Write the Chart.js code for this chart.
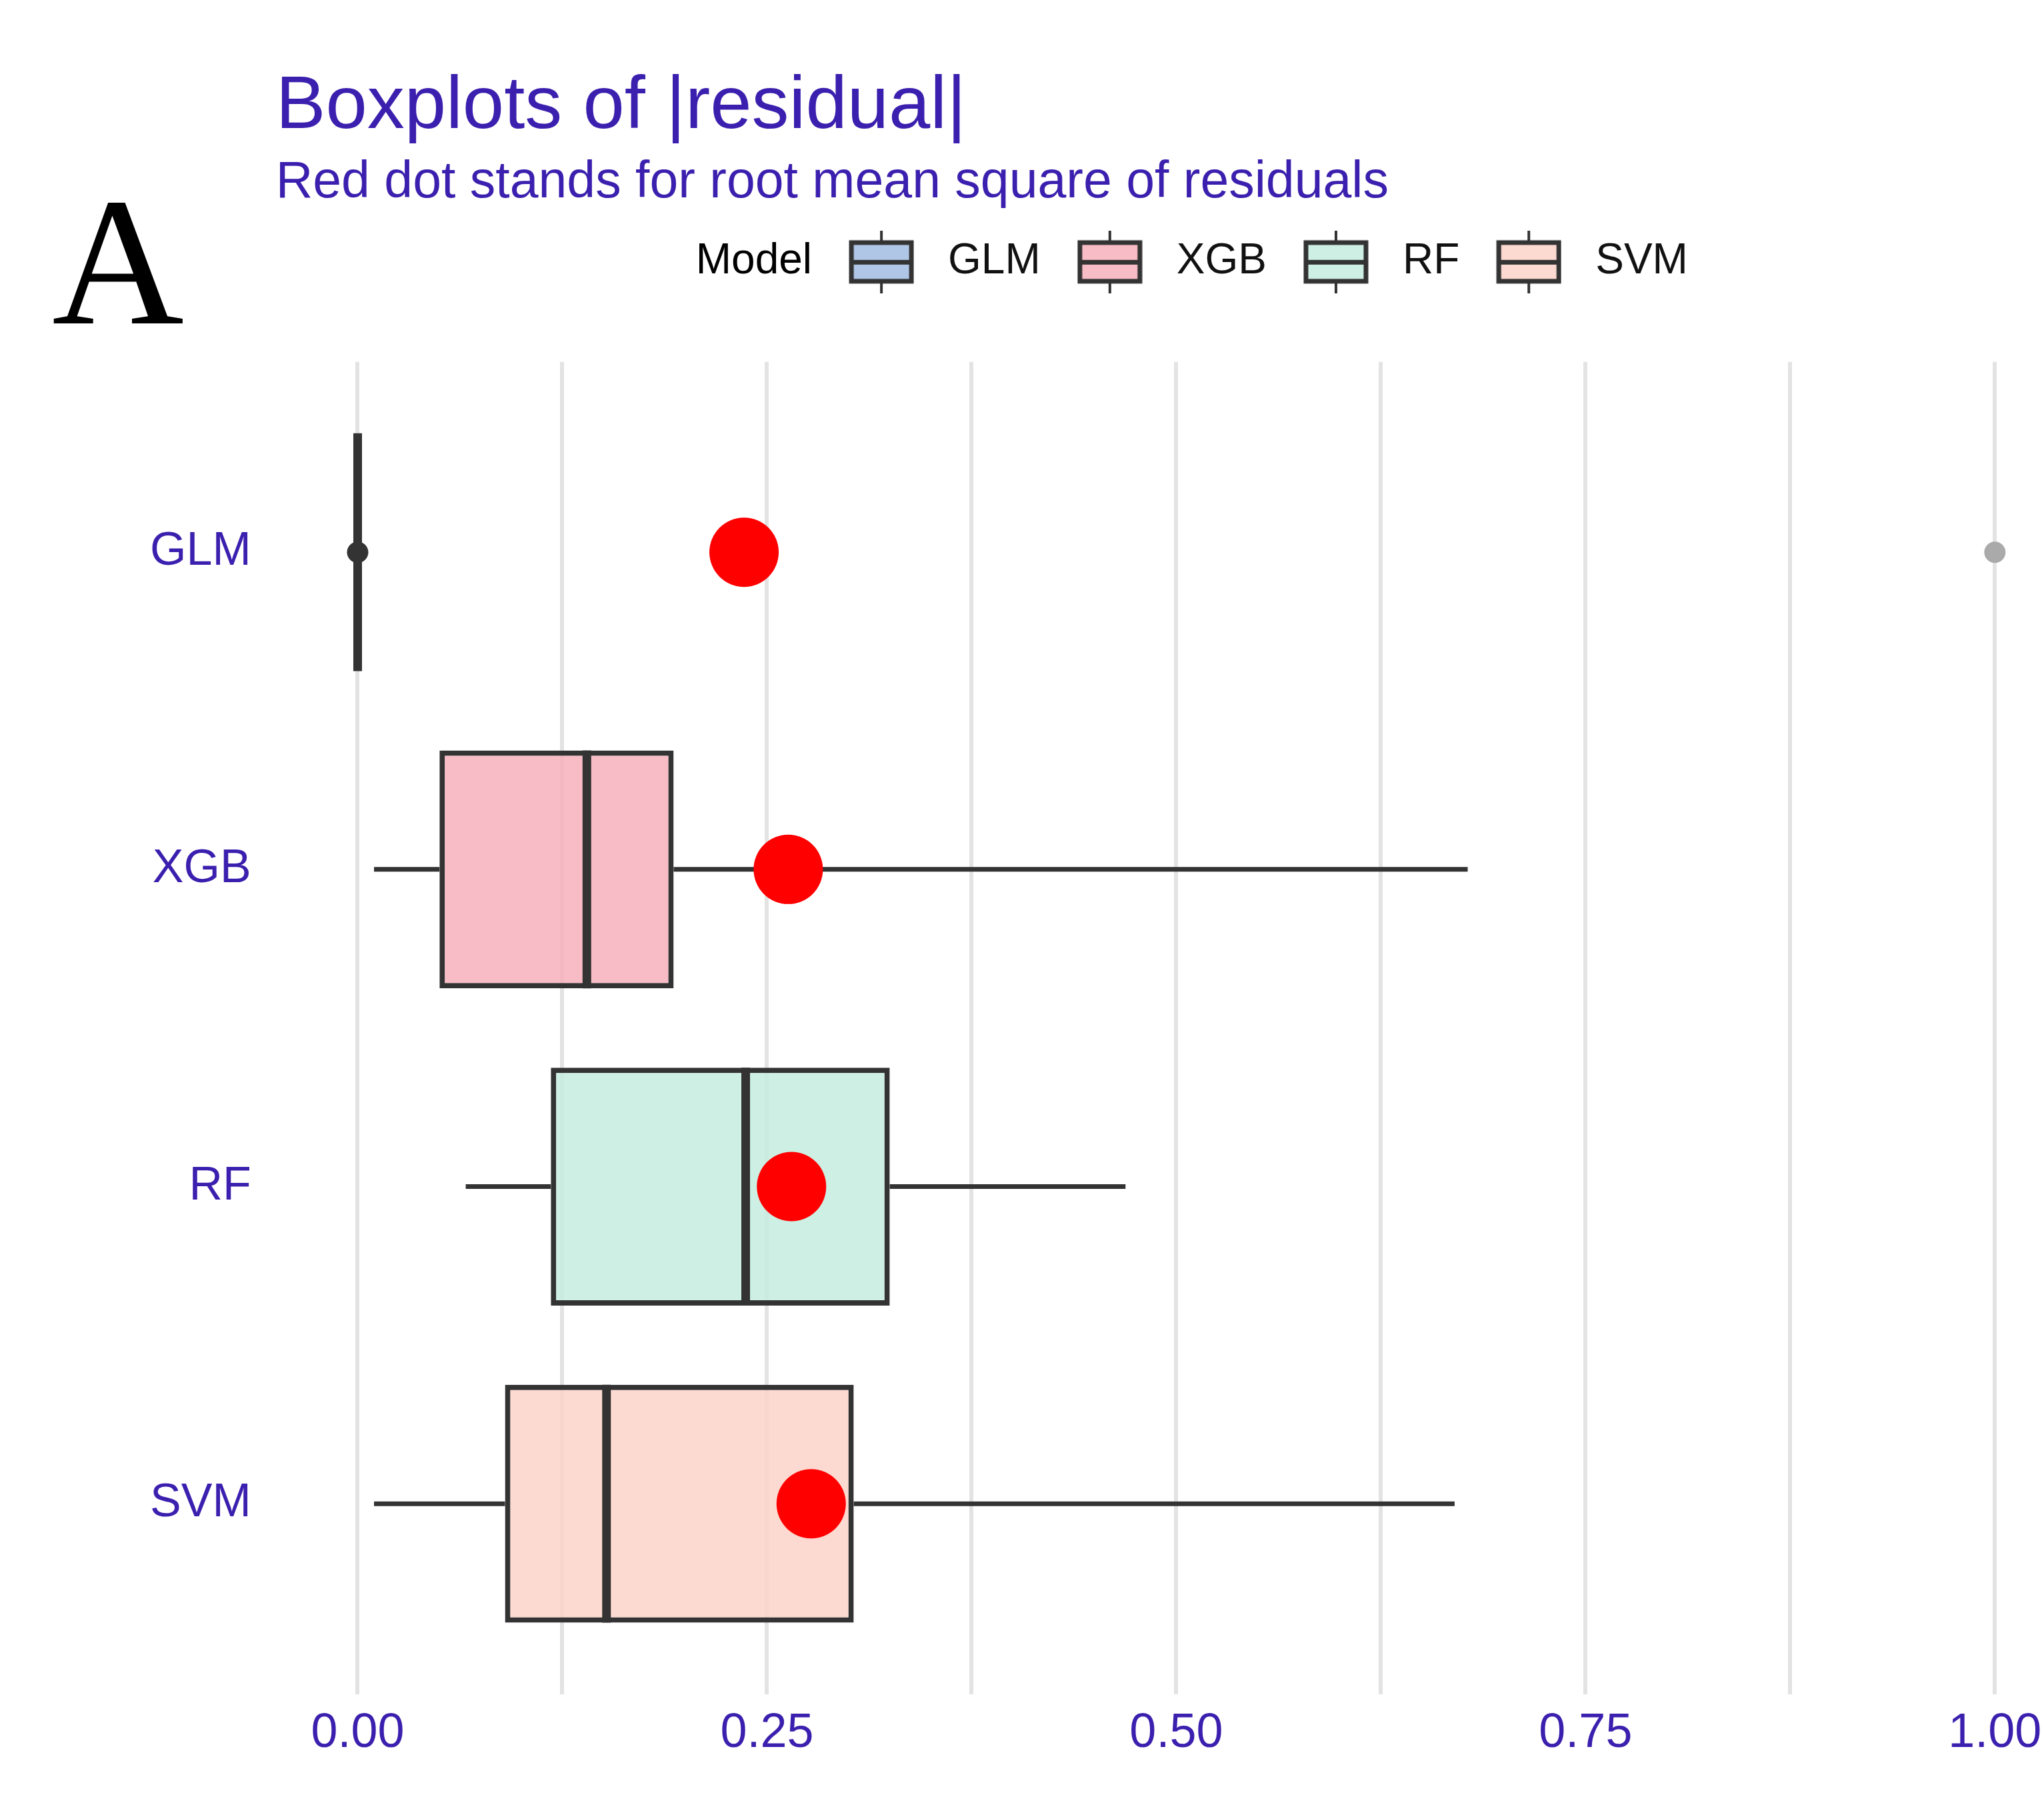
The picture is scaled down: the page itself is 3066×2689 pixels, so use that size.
<!DOCTYPE html>
<html>
<head>
<meta charset="utf-8">
<script src="https://cdn.jsdelivr.net/npm/chart.js@4.4.1/dist/chart.umd.min.js"></script>
<style>
  html, body { margin: 0; padding: 0; background: #fff; }
  #wrap { width: 3066px; height: 2689px; }
</style>
</head>
<body>
<div id="wrap"><canvas id="residual-chart"></canvas></div>
<script>
// values
const models = ['GLM', 'XGB', 'RF', 'SVM'];
const whiskerLow = [0, 0.010, 0.066, 0.010];
const q1 = [0, 0.050, 0.118, 0.090];
const median = [0, 0.140, 0.237, 0.152];
const q3 = [0, 0.193, 0.325, 0.303];
const whiskerHigh = [0, 0.678, 0.469, 0.670];
const rmsResidual = [0.236, 0.263, 0.265, 0.277];
const outlierModel = ['GLM', 'GLM'];
const outlierValue = [0, 1.0];
const xTickValues = [0, 0.25, 0.5, 0.75, 1];
const xTickLabels = ['0.00', '0.25', '0.50', '0.75', '1.00'];
const xMinorBreaks = [0.125, 0.375, 0.625, 0.875];

const purple = '#3b1fae';
const ink = '#333333';
const fills = ['rgba(162,188,226,0.85)', 'rgba(246,176,187,0.85)', 'rgba(197,236,222,0.85)', 'rgba(253,211,201,0.85)'];
const outlierColors = ['#333333', '#aaaaaa'];

Chart.defaults.font.family = '"Liberation Sans", Arial, sans-serif';

// little boxplot glyph for the legend keys
function keyIcon(fill) {
    const c = document.createElement('canvas');
    c.width = 98;
    c.height = 94;
    const g = c.getContext('2d');
    g.fillStyle = ink;
    g.fillRect(47, 0, 4, 18);
    g.fillRect(47, 76, 4, 18);
    g.fillStyle = fill;
    g.fillRect(4, 18, 90, 58);
    g.strokeStyle = ink;
    g.lineWidth = 7;
    g.strokeRect(4, 18, 90, 58);
    g.fillStyle = ink;
    g.fillRect(4, 44, 90, 7);
    return c;
}
const blank = document.createElement('canvas');
blank.width = 1;
blank.height = 1;

const medianLines = {
    id: 'medianLines',
    afterDatasetDraw(chart, args) {
        if (args.meta.label !== 'box') return;
        const ctx = chart.ctx;
        const x = chart.scales.x;
        ctx.save();
        ctx.strokeStyle = ink;
        ctx.lineWidth = 13;
        args.meta.data.forEach(function (bar, i) {
            const p = bar.getProps(['y', 'height'], true);
            const px = x.getPixelForValue(median[i]);
            ctx.beginPath();
            ctx.moveTo(px, p.y - p.height / 2);
            ctx.lineTo(px, p.y + p.height / 2);
            ctx.stroke();
        });
        ctx.restore();
    }
};

const panelLetter = {
    id: 'panelLetter',
    afterDraw(chart) {
        const ctx = chart.ctx;
        ctx.save();
        ctx.font = '274px "Liberation Serif", "DejaVu Serif", serif';
        ctx.fillStyle = '#000';
        ctx.textBaseline = 'alphabetic';
        ctx.fillText('A', 78, 485);
        ctx.restore();
    }
};

// room between legend and panel, and nudge the legend row left a bit
const legendGap = {
    id: 'legendGap',
    beforeInit(chart) {
        const fit = chart.legend.fit;
        chart.legend.fit = function () {
            fit.call(this);
            this.height += 108;
        };
    },
    afterLayout(chart) {
        chart.legend.left -= 36;
        chart.legend.right -= 36;
    }
};

const ctx = document.getElementById('residual-chart').getContext('2d');
const chart = new Chart(ctx, {
    type: 'bar',
    data: {
        datasets: [
            {
                type: 'scatter',
                label: 'rms',
                data: models.map((m, i) => ({x: rmsResidual[i], y: i + 1})),
                pointRadius: 52,
                pointHoverRadius: 52,
                pointBackgroundColor: '#ff0000',
                pointBorderWidth: 0,
                order: 0
            },
            {
                type: 'scatter',
                label: 'outliers',
                data: outlierModel.map((m, i) => ({x: outlierValue[i], y: models.indexOf(m) + 1})),
                pointRadius: 16,
                pointHoverRadius: 16,
                pointBackgroundColor: outlierColors,
                pointBorderWidth: 0,
                order: 1
            },
            {
                label: 'box',
                data: models.map((m, i) => ({x: [q1[i], q3[i]], y: i + 1})),
                backgroundColor: fills,
                borderColor: ink,
                borderWidth: 8,
                borderSkipped: false,
                grouped: false,
                categoryPercentage: 1,
                barPercentage: 0.75,
                order: 2
            },
            {
                label: 'lower whisker',
                data: models.map((m, i) => ({x: [whiskerLow[i], q1[i]], y: i + 1})),
                backgroundColor: ink,
                borderWidth: 0,
                grouped: false,
                maxBarThickness: 7,
                order: 3
            },
            {
                label: 'upper whisker',
                data: models.map((m, i) => ({x: [q3[i], whiskerHigh[i]], y: i + 1})),
                backgroundColor: ink,
                borderWidth: 0,
                grouped: false,
                maxBarThickness: 7,
                order: 3
            }
        ]
    },
    options: {
        indexAxis: 'y',
        responsive: true,
        maintainAspectRatio: false,
        animation: false,
        events: [],
        layout: {
            autoPadding: false,
            padding: {left: 188, right: 0, top: 0, bottom: 30}
        },
        scales: {
            x: {
                type: 'linear',
                min: -0.05,
                max: 1.03,
                afterBuildTicks: function (scale) {
                    scale.ticks = xTickValues.concat(xMinorBreaks)
                        .sort((a, b) => a - b)
                        .map(v => ({value: v}));
                },
                afterFit: function (scale) {
                    scale.paddingLeft = 0;
                    scale.paddingRight = 0;
                },
                ticks: {
                    autoSkip: false,
                    maxRotation: 0,
                    padding: 16,
                    color: purple,
                    font: {size: 72},
                    callback: function (value) {
                        const k = xTickValues.indexOf(value);
                        return k === -1 ? '' : xTickLabels[k];
                    }
                },
                grid: {color: '#e3e3e3', lineWidth: 6, drawTicks: false},
                border: {display: false}
            },
            y: {
                type: 'linear',
                reverse: true,
                offset: false,
                min: 0.4,
                max: 4.6,
                afterBuildTicks: function (scale) {
                    scale.ticks = models.map((m, i) => ({value: i + 1}));
                },
                ticks: {
                    autoSkip: false,
                    padding: 37,
                    color: purple,
                    font: {size: 70},
                    callback: function (value) {
                        return models[value - 1];
                    }
                },
                grid: {display: false, drawTicks: false},
                border: {display: false}
            }
        },
        plugins: {
            title: {
                display: true,
                text: 'Boxplots of |residual|',
                align: 'start',
                fullSize: false,
                color: purple,
                font: {size: 112, weight: 'normal'},
                padding: {top: 94, bottom: 0}
            },
            subtitle: {
                display: true,
                text: 'Red dot stands for root mean square of residuals',
                align: 'start',
                fullSize: false,
                color: purple,
                font: {size: 77, weight: 'normal'},
                padding: {top: 0, bottom: 4}
            },
            legend: {
                display: true,
                position: 'top',
                fullSize: false,
                onClick: null,
                labels: {
                    usePointStyle: true,
                    pointStyleWidth: 136,
                    padding: 36,
                    color: '#111',
                    font: {size: 64},
                    generateLabels: function () {
                        const items = [{
                            text: 'Model', pointStyle: blank, fillStyle: 'rgba(0,0,0,0)',
                            strokeStyle: 'rgba(0,0,0,0)', lineWidth: 0, fontColor: '#000', hidden: false
                        }];
                        models.forEach(function (m, i) {
                            items.push({
                                text: m, pointStyle: keyIcon(fills[i]), fillStyle: fills[i],
                                strokeStyle: ink, lineWidth: 0, fontColor: '#111', hidden: false
                            });
                        });
                        return items;
                    }
                }
            },
            tooltip: {enabled: false}
        }
    },
    plugins: [medianLines, panelLetter, legendGap]
});
</script>
</body>
</html>
